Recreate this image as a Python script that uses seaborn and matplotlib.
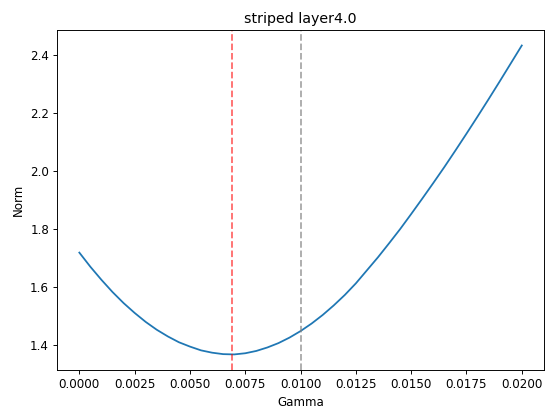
import matplotlib
matplotlib.use("Agg")
import matplotlib.pyplot as plt
import seaborn as sns
import pandas as pd

# values
gamma = [0.0000, 0.0005, 0.0010, 0.0015, 0.0020, 0.0025, 0.0030, 0.0035,
         0.0040, 0.0045, 0.0050, 0.0055, 0.0060, 0.0065, 0.0070, 0.0075,
         0.0080, 0.0085, 0.0090, 0.0095, 0.0100, 0.0105, 0.0110, 0.0115,
         0.0120, 0.0125, 0.0130, 0.0135, 0.0140, 0.0145, 0.0150, 0.0155,
         0.0160, 0.0165, 0.0170, 0.0175, 0.0180, 0.0185, 0.0190, 0.0195,
         0.0200]
norm = [1.719, 1.670, 1.625, 1.583, 1.545, 1.511, 1.480, 1.453,
        1.430, 1.410, 1.395, 1.382, 1.374, 1.369, 1.368, 1.372,
        1.380, 1.392, 1.407, 1.426, 1.4485, 1.4745, 1.504, 1.537,
        1.573, 1.613, 1.658, 1.703, 1.751, 1.800, 1.852, 1.905,
        1.959, 2.014, 2.071, 2.129, 2.188, 2.248, 2.309, 2.371,
        2.433]
best_gamma = 0.0069
ref_gamma = 0.01

df = pd.DataFrame({"Gamma": gamma, "Norm": norm})

# the reference looks like a default 100 dpi figure shrunk to ~85%
dpi = 85.2
fig, ax = plt.subplots(figsize=(545 / dpi, 406 / dpi), dpi=dpi)
sns.lineplot(data=df, x="Gamma", y="Norm", ax=ax)
ax.axvline(best_gamma, color="red", linestyle="--", alpha=0.6)
ax.axvline(ref_gamma, color="gray", linestyle="--", alpha=0.7)
ax.set_title("striped layer4.0")
ax.set_xlabel("Gamma")
ax.set_ylabel("Norm")

fig.subplots_adjust(left=0.105, right=0.998, top=0.926, bottom=0.089)
fig.savefig("out.png", dpi=dpi)
